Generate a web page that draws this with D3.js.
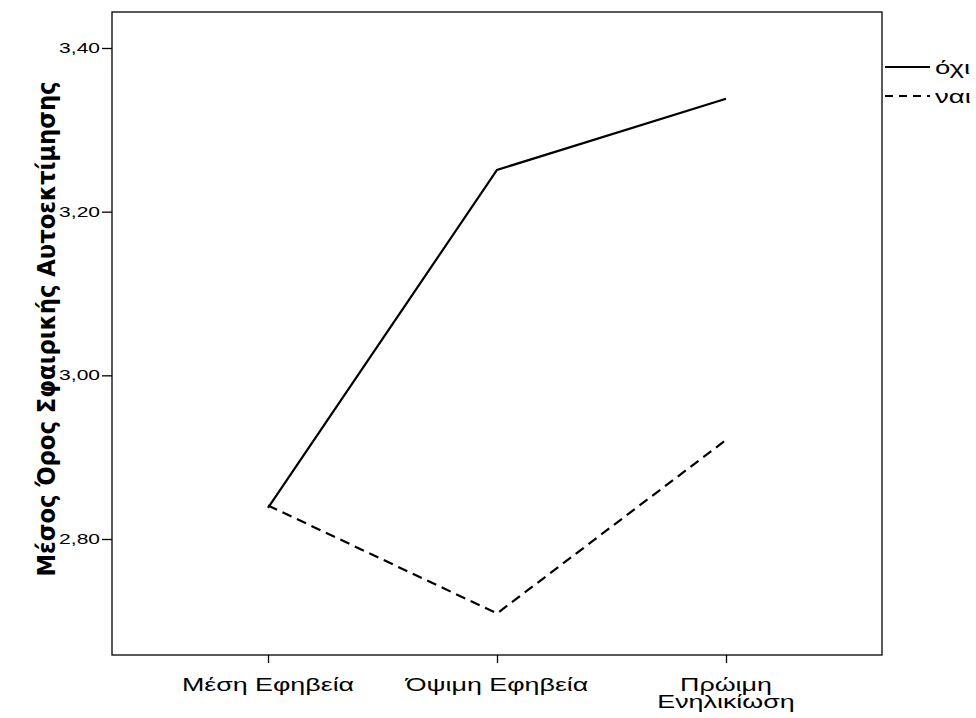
<!DOCTYPE html>
<html>
<head>
<meta charset="utf-8">
<script src="https://cdn.jsdelivr.net/npm/d3@7"></script>
<style>
	body { margin:0; background:#fff; }
	svg text { font-family: "Liberation Sans", Arial, sans-serif; fill:#000; }
	.ytitle { font-family: "DejaVu Sans Condensed", "DejaVu Sans", sans-serif; font-weight:bold; }
</style>
</head>
<body>
<div id="svgContainer"></div>
<script>
// categories (x axis) and the two series
const categories = ["Μέση Εφηβεία", "Όψιμη Εφηβεία", "Πρώιμη Ενηλικίωση"];
const categoryLines = [["Μέση Εφηβεία"], ["Όψιμη Εφηβεία"], ["Πρώιμη", "Ενηλικίωση"]];
const seriesNames = ["όχι", "ναι"];
const valuesOxi = [2.838, 3.251, 3.338];
const valuesNai = [2.841, 2.709, 2.921];
const yTicks = [2.80, 3.00, 3.20, 3.40];
const yTitle = "Μέσος Όρος Σφαιρικής Αυτοεκτίμησης";

const W = 976, H = 718;
const frame = {left:112, right:882, top:12, bottom:655};
const stretch = 1.45; // the original text is wide, stretched horizontally

var svg = d3.select("#svgContainer").append("svg")
	.attr("width", W).attr("height", H);

// y scale : 3,40 at y=48, 2,80 at y=539
var yScale = d3.scaleLinear().domain([2.80, 3.40]).range([539, 48]);
var xScale = d3.scalePoint().domain(categories).range([268, 726]);

// frame
svg.append("rect")
	.attr("x", frame.left).attr("y", frame.top)
	.attr("width", frame.right - frame.left)
	.attr("height", frame.bottom - frame.top)
	.attr("fill", "none").attr("stroke", "#000").attr("stroke-width", 1.3);

// y axis
var yAxis = d3.axisLeft(yScale)
	.tickValues(yTicks)
	.tickSize(10)
	.tickFormat(function(d){ return d3.format(".2f")(d).replace(".", ","); });

var gy = svg.append("g").attr("transform", "translate(" + frame.left + ",0)").call(yAxis);
gy.select(".domain").remove();
gy.selectAll("line").attr("stroke", "#000").attr("stroke-width", 1.3);
gy.selectAll("text")
	.attr("x", -12 / stretch)
	.attr("transform", "scale(" + stretch + ",1)")
	.style("font-size", "14.5px")
	.style("font-family", "Liberation Sans, Arial, sans-serif");

// x axis
var xAxis = d3.axisBottom(xScale).tickSize(8).tickFormat("");
var gx = svg.append("g").attr("transform", "translate(0," + frame.bottom + ")").call(xAxis);
gx.select(".domain").remove();
gx.selectAll("line").attr("stroke", "#000").attr("stroke-width", 1.3);

// x labels (multi-line)
categories.forEach(function(c, i){
	var t = svg.append("text")
		.attr("transform", "translate(" + xScale(c) + ",691) scale(" + stretch + ",1)")
		.attr("text-anchor", "middle")
		.style("font-size", "18.5px");
	categoryLines[i].forEach(function(line, j){
		t.append("tspan").attr("x", 0).attr("dy", j === 0 ? 0 : 17.5).text(line);
	});
});

// y title
svg.append("text")
	.attr("class", "ytitle")
	.attr("transform", "translate(55,329) scale(" + stretch + ",1) rotate(-90)")
	.attr("text-anchor", "middle")
	.style("font-size", "17.5px")
	.attr("textLength", 495)
	.attr("lengthAdjust", "spacingAndGlyphs")
	.text(yTitle);

// lines
var lineFunction = d3.line()
	.x(function(d, i){ return xScale(categories[i]); })
	.y(function(d){ return yScale(d); })
	.curve(d3.curveLinear);

svg.append("path")
	.datum(valuesOxi)
	.attr("d", lineFunction)
	.attr("fill", "none").attr("stroke", "#000").attr("stroke-width", 2.2);

svg.append("path")
	.datum(valuesNai)
	.attr("d", lineFunction)
	.attr("fill", "none").attr("stroke", "#000").attr("stroke-width", 2.2)
	.attr("stroke-dasharray", "10,6");

// legend
var legendY = [67, 96];
seriesNames.forEach(function(name, i){
	svg.append("line")
		.attr("x1", 885).attr("x2", 930)
		.attr("y1", legendY[i]).attr("y2", legendY[i])
		.attr("stroke", "#000").attr("stroke-width", 2)
		.attr("stroke-dasharray", i === 1 ? "8,6" : null);
	svg.append("text")
		.attr("transform", "translate(935," + (legendY[i] + 7) + ") scale(" + stretch + ",1)")
		.style("font-size", "19px")
		.text(name);
});
</script>
</body>
</html>
